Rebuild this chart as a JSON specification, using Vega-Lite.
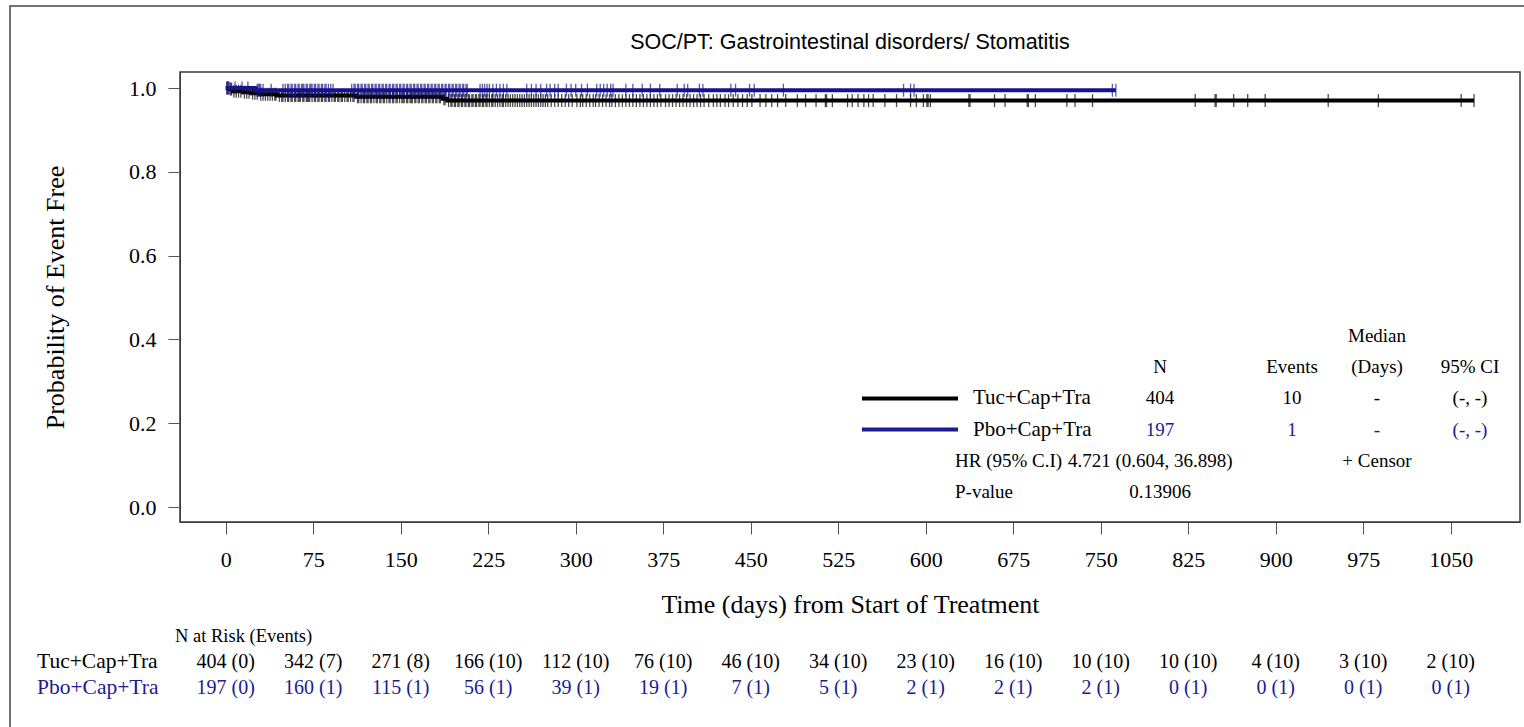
{
  "$schema": "https://vega.github.io/schema/vega-lite/v6.json",
  "width": 1340,
  "height": 450,
  "autosize": "none",
  "padding": {"left": 180, "top": 72, "right": 4, "bottom": 205},
  "background": "white",
  "config": {
    "view": {"stroke": "#3a3a3a", "strokeWidth": 1.5},
    "text": {"font": "Liberation Serif"}
  },
  "title": {
    "text": "SOC/PT: Gastrointestinal disorders/ Stomatitis",
    "font": "Liberation Sans",
    "fontSize": 21.5,
    "fontWeight": "normal",
    "color": "black",
    "anchor": "middle",
    "frame": "group",
    "offset": -48
  },
  "datasets": {
    "frame": [{"a": "l", "b": "r", "c": "t", "d": "b"}],
    "curve": [
      {"g": "T", "t": 0, "s": 1},
      {"g": "T", "t": 3, "s": 0.99752},
      {"g": "T", "t": 6, "s": 0.99254},
      {"g": "T", "t": 15, "s": 0.99003},
      {"g": "T", "t": 22, "s": 0.98749},
      {"g": "T", "t": 29, "s": 0.98493},
      {"g": "T", "t": 44, "s": 0.98227},
      {"g": "T", "t": 112, "s": 0.97905},
      {"g": "T", "t": 186, "s": 0.9745},
      {"g": "T", "t": 190, "s": 0.9699},
      {"g": "T", "t": 1070, "s": 0.9699},
      {"g": "P", "t": 0, "s": 1},
      {"g": "P", "t": 25, "s": 0.99479},
      {"g": "P", "t": 763, "s": 0.99479}
    ],
    "cens": [
      {"g": "T", "s": 1, "ts": [1, 2]},
      {"g": "T", "s": 0.99752, "ts": [4, 5]},
      {"g": "T", "s": 0.99254, "ts": [7, 9, 11, 13]},
      {"g": "T", "s": 0.99003, "ts": [16, 18, 20]},
      {"g": "T", "s": 0.98749, "ts": [23, 25, 27]},
      {"g": "T", "s": 0.98493, "ts": [30, 32, 34, 36, 38, 40, 42, 43]},
      {"g": "T", "s": 0.98227, "ts": [46, 48, 49, 51, 53, 54, 56, 57, 59, 60, 62, 63, 64, 66, 67, 69, 70, 71, 72, 74, 76, 77, 79, 80, 82, 83, 85, 86, 88, 89, 91, 93, 94, 96, 97, 99, 100, 102, 104, 105, 107, 109, 110]},
      {"g": "T", "s": 0.97905, "ts": [113, 114, 116, 118, 119, 121, 122, 124, 125, 127, 129, 130, 132, 133, 135, 136, 138, 140, 141, 143, 144, 146, 147, 149, 151, 152, 153, 155, 156, 158, 159, 160, 162, 163, 165, 166, 168, 169, 171, 172, 174, 175, 177, 178, 180, 181, 183, 184]},
      {"g": "T", "s": 0.9745, "ts": [187, 188]},
      {"g": "T", "s": 0.9699, "ts": [191, 193, 194, 196, 197, 199, 200, 202, 203, 205, 206, 208, 209, 211, 212, 214, 215, 217, 218, 220, 221, 223, 224, 226, 228, 229, 231, 233, 235, 237, 238, 240, 242, 244, 246, 248, 250, 252, 254, 256, 258, 260, 262, 264, 266, 268, 270, 272, 274, 276, 279, 282, 285, 288, 291, 294, 297, 301, 304, 306, 309, 312, 315, 317, 320, 323, 326, 329, 331, 334, 337, 340, 343, 346, 349, 352, 355, 358, 361, 364, 367, 370, 373, 377, 380, 383, 386, 389, 392, 395, 398, 401, 404, 407, 410, 414, 418, 421, 424, 428, 431, 435, 439, 443, 447, 451, 458, 463, 468, 473, 480, 490, 497, 506, 514, 515, 520, 533, 537, 542, 547, 551, 555, 565, 575, 587, 592, 598, 601, 602, 604, 637, 638, 659, 668, 687, 688, 694, 721, 728, 743, 831, 848, 849, 864, 876, 891, 945, 988, 1059, 1070]},
      {"g": "P", "s": 1, "ts": [1, 2, 3, 8, 14, 19]},
      {"g": "P", "s": 0.99479, "ts": [27, 28, 29, 30, 32, 39, 49, 51, 53, 54, 56, 57, 59, 60, 62, 63, 65, 66, 67, 69, 70, 72, 73, 74, 76, 77, 79, 80, 82, 83, 85, 86, 88, 90, 92, 108, 110, 111, 113, 114, 116, 117, 119, 120, 122, 123, 125, 126, 128, 129, 131, 132, 134, 135, 137, 138, 140, 141, 143, 144, 146, 147, 149, 150, 152, 153, 155, 156, 158, 159, 161, 162, 164, 165, 167, 168, 170, 171, 173, 174, 176, 177, 179, 180, 182, 183, 185, 186, 188, 189, 191, 192, 194, 195, 197, 198, 200, 201, 203, 204, 206, 207, 218, 220, 222, 224, 226, 229, 232, 235, 238, 241, 258, 262, 266, 270, 275, 278, 282, 285, 292, 296, 300, 305, 310, 318, 321, 324, 327, 330, 332, 343, 349, 357, 364, 372, 387, 393, 396, 406, 409, 433, 437, 449, 453, 478, 581, 587, 590, 760, 763]}
    ],
    "risk": [
      {"g": "T", "t": 0, "txt": "404 (0)"},
      {"g": "T", "t": 75, "txt": "342 (7)"},
      {"g": "T", "t": 150, "txt": "271 (8)"},
      {"g": "T", "t": 225, "txt": "166 (10)"},
      {"g": "T", "t": 300, "txt": "112 (10)"},
      {"g": "T", "t": 375, "txt": "76 (10)"},
      {"g": "T", "t": 450, "txt": "46 (10)"},
      {"g": "T", "t": 525, "txt": "34 (10)"},
      {"g": "T", "t": 600, "txt": "23 (10)"},
      {"g": "T", "t": 675, "txt": "16 (10)"},
      {"g": "T", "t": 750, "txt": "10 (10)"},
      {"g": "T", "t": 825, "txt": "10 (10)"},
      {"g": "T", "t": 900, "txt": "4 (10)"},
      {"g": "T", "t": 975, "txt": "3 (10)"},
      {"g": "T", "t": 1050, "txt": "2 (10)"},
      {"g": "P", "t": 0, "txt": "197 (0)"},
      {"g": "P", "t": 75, "txt": "160 (1)"},
      {"g": "P", "t": 150, "txt": "115 (1)"},
      {"g": "P", "t": 225, "txt": "56 (1)"},
      {"g": "P", "t": 300, "txt": "39 (1)"},
      {"g": "P", "t": 375, "txt": "19 (1)"},
      {"g": "P", "t": 450, "txt": "7 (1)"},
      {"g": "P", "t": 525, "txt": "5 (1)"},
      {"g": "P", "t": 600, "txt": "2 (1)"},
      {"g": "P", "t": 675, "txt": "2 (1)"},
      {"g": "P", "t": 750, "txt": "2 (1)"},
      {"g": "P", "t": 825, "txt": "0 (1)"},
      {"g": "P", "t": 900, "txt": "0 (1)"},
      {"g": "P", "t": 975, "txt": "0 (1)"},
      {"g": "P", "t": 1050, "txt": "0 (1)"}
    ],
    "riskHdr": [
      {"r": "H", "c": "hdr", "txt": "N at Risk (Events)", "g": "T"}
    ],
    "riskLab": [
      {"r": "T", "c": "lab", "txt": "Tuc+Cap+Tra", "g": "T"},
      {"r": "P", "c": "lab", "txt": "Pbo+Cap+Tra", "g": "P"}
    ],
    "legLines": [
      {"r": "T", "p": "a", "g": "T"},
      {"r": "T", "p": "b", "g": "T"},
      {"r": "P", "p": "a", "g": "P"},
      {"r": "P", "p": "b", "g": "P"}
    ],
    "legNE": [
      {"r": "hdr", "c": "N", "txt": "N", "g": "T"},
      {"r": "hdr", "c": "E", "txt": "Events", "g": "T"},
      {"r": "T", "c": "N", "txt": "404", "g": "T"},
      {"r": "T", "c": "E", "txt": "10", "g": "T"},
      {"r": "P", "c": "N", "txt": "197", "g": "P"},
      {"r": "P", "c": "E", "txt": "1", "g": "P"},
      {"r": "PV", "c": "N", "txt": "0.13906", "g": "T"}
    ],
    "legMC": [
      {"r": "med", "c": "M", "txt": "Median", "g": "T"},
      {"r": "hdr", "c": "M", "txt": "(Days)", "g": "T"},
      {"r": "hdr", "c": "C", "txt": "95% CI", "g": "T"},
      {"r": "T", "c": "M", "txt": "-", "g": "T"},
      {"r": "T", "c": "C", "txt": "(-, -)", "g": "T"},
      {"r": "P", "c": "M", "txt": "-", "g": "P"},
      {"r": "P", "c": "C", "txt": "(-, -)", "g": "P"},
      {"r": "HR", "c": "M", "txt": "+ Censor", "g": "T"}
    ],
    "legLab": [
      {"r": "T", "c": "lab", "txt": "Tuc+Cap+Tra", "g": "T"},
      {"r": "P", "c": "lab", "txt": "Pbo+Cap+Tra", "g": "T"}
    ],
    "legLeft": [
      {"r": "HR", "c": "hr", "txt": "HR (95% C.I)", "g": "T"},
      {"r": "HR", "c": "hrv", "txt": "4.721 (0.604, 36.898)", "g": "T"},
      {"r": "PV", "c": "hr", "txt": "P-value", "g": "T"}
    ]
  },
  "resolve": {"scale": {"x": "independent", "y": "independent"}},
  "layer": [
    {
      "data": {"name": "frame"},
      "mark": {"type": "rect", "fill": null, "stroke": "#444", "strokeWidth": 1.5},
      "encoding": {
        "x": {"field": "a", "type": "nominal", "scale": {"type": "point", "domain": ["l", "r"], "range": [-170, 1400], "padding": 0}, "axis": null},
        "x2": {"field": "b"},
        "y": {"field": "c", "type": "nominal", "scale": {"type": "point", "domain": ["t", "b"], "range": [-66, 700], "padding": 0}, "axis": null},
        "y2": {"field": "d"}
      }
    },
    {
      "data": {"name": "curve"},
      "transform": [{"filter": "datum.g === 'T'"}],
      "mark": {"type": "line", "interpolate": "step-after", "color": "black", "strokeWidth": 4},
      "encoding": {
        "x": {
          "field": "t", "type": "quantitative",
          "scale": {"domain": [-39.2, 1109.4], "nice": false, "zero": false},
          "axis": {
            "values": [0, 75, 150, 225, 300, 375, 450, 525, 600, 675, 750, 825, 900, 975, 1050],
            "format": "d",
            "grid": false, "tickSize": 12, "tickColor": "#555", "domainColor": "#3a3a3a",
            "labelFont": "Liberation Serif", "labelFontSize": 22, "labelColor": "black", "labelPadding": 15,
            "title": "Time (days) from Start of Treatment",
            "titleFont": "Liberation Serif", "titleFontSize": 26, "titleFontWeight": "normal", "titleColor": "black", "titlePadding": 21
          }
        },
        "y": {
          "field": "s", "type": "quantitative",
          "scale": {"domain": [-0.0358, 1.0382], "nice": false, "zero": false},
          "axis": {
            "values": [0, 0.2, 0.4, 0.6, 0.8, 1.0], "format": ".1f",
            "grid": false, "tickSize": 12, "tickColor": "#555", "domainColor": "#3a3a3a",
            "labelFont": "Liberation Serif", "labelFontSize": 22, "labelColor": "black", "labelPadding": 12,
            "title": "Probability of Event Free",
            "titleFont": "Liberation Serif", "titleFontSize": 26, "titleFontWeight": "normal", "titleColor": "black", "titlePadding": 60
          }
        }
      }
    },
    {
      "data": {"name": "cens"},
      "transform": [{"filter": "datum.g === 'T'"}, {"flatten": ["ts"], "as": ["t"]}],
      "mark": {"type": "tick", "orient": "vertical", "color": "black", "size": 13, "thickness": 1.3},
      "encoding": {
        "x": {"field": "t", "type": "quantitative", "scale": {"domain": [-39.2, 1109.4], "nice": false, "zero": false}, "axis": null},
        "y": {"field": "s", "type": "quantitative", "scale": {"domain": [-0.0358, 1.0382], "nice": false, "zero": false}, "axis": null}
      }
    },
    {
      "data": {"name": "curve"},
      "transform": [{"filter": "datum.g === 'P'"}],
      "mark": {"type": "line", "interpolate": "step-after", "color": "#14148C", "strokeWidth": 4},
      "encoding": {
        "x": {"field": "t", "type": "quantitative", "scale": {"domain": [-39.2, 1109.4], "nice": false, "zero": false}, "axis": null},
        "y": {"field": "s", "type": "quantitative", "scale": {"domain": [-0.0358, 1.0382], "nice": false, "zero": false}, "axis": null}
      }
    },
    {
      "data": {"name": "cens"},
      "transform": [{"filter": "datum.g === 'P'"}, {"flatten": ["ts"], "as": ["t"]}],
      "mark": {"type": "tick", "orient": "vertical", "color": "#14148C", "size": 13, "thickness": 1.3},
      "encoding": {
        "x": {"field": "t", "type": "quantitative", "scale": {"domain": [-39.2, 1109.4], "nice": false, "zero": false}, "axis": null},
        "y": {"field": "s", "type": "quantitative", "scale": {"domain": [-0.0358, 1.0382], "nice": false, "zero": false}, "axis": null}
      }
    },
    {
      "data": {"name": "risk"},
      "mark": {"type": "text", "fontSize": 20, "baseline": "middle", "align": "center", "font": "Liberation Serif"},
      "encoding": {
        "x": {"field": "t", "type": "quantitative", "scale": {"domain": [-39.2, 1109.4], "nice": false, "zero": false}, "axis": null},
        "y": {"field": "g", "type": "nominal", "scale": {"type": "point", "domain": ["H", "T", "P"], "range": [564, 616], "padding": 0}, "axis": null},
        "text": {"field": "txt"},
        "color": {"field": "g", "type": "nominal", "scale": {"domain": ["T", "P"], "range": ["black", "#1B1B96"]}, "legend": null}
      }
    },
    {
      "data": {"name": "riskHdr"},
      "mark": {"type": "text", "fontSize": 18.5, "baseline": "middle", "align": "left", "font": "Liberation Serif"},
      "encoding": {
        "x": {"field": "c", "type": "nominal", "scale": {"type": "point", "domain": ["lab", "hdr"], "range": [-143, -5], "padding": 0}, "axis": null},
        "y": {"field": "r", "type": "nominal", "scale": {"type": "point", "domain": ["H", "T", "P"], "range": [564, 616], "padding": 0}, "axis": null},
        "text": {"field": "txt"},
        "color": {"field": "g", "type": "nominal", "scale": {"domain": ["T", "P"], "range": ["black", "#1B1B96"]}, "legend": null}
      }
    },
    {
      "data": {"name": "riskLab"},
      "mark": {"type": "text", "fontSize": 21.5, "baseline": "middle", "align": "left", "font": "Liberation Serif"},
      "encoding": {
        "x": {"field": "c", "type": "nominal", "scale": {"type": "point", "domain": ["lab", "hdr"], "range": [-143, -5], "padding": 0}, "axis": null},
        "y": {"field": "r", "type": "nominal", "scale": {"type": "point", "domain": ["H", "T", "P"], "range": [564, 616], "padding": 0}, "axis": null},
        "text": {"field": "txt"},
        "color": {"field": "g", "type": "nominal", "scale": {"domain": ["T", "P"], "range": ["black", "#1B1B96"]}, "legend": null}
      }
    },
    {
      "data": {"name": "legLines"},
      "mark": {"type": "line", "strokeWidth": 4},
      "encoding": {
        "x": {"field": "p", "type": "nominal", "scale": {"type": "point", "domain": ["a", "b"], "range": [682, 778], "padding": 0}, "axis": null},
        "y": {"field": "r", "type": "nominal", "scale": {"type": "point", "domain": ["med", "hdr", "T", "P", "HR", "PV"], "range": [264, 420], "padding": 0}, "axis": null},
        "color": {"field": "g", "type": "nominal", "scale": {"domain": ["T", "P"], "range": ["black", "#14148C"]}, "legend": null},
        "detail": {"field": "r"}
      }
    },
    {
      "data": {"name": "legNE"},
      "mark": {"type": "text", "fontSize": 19, "baseline": "middle", "align": "center", "font": "Liberation Serif"},
      "encoding": {
        "x": {"field": "c", "type": "nominal", "scale": {"type": "point", "domain": ["N", "E"], "range": [980, 1112], "padding": 0}, "axis": null},
        "y": {"field": "r", "type": "nominal", "scale": {"type": "point", "domain": ["med", "hdr", "T", "P", "HR", "PV"], "range": [264, 420], "padding": 0}, "axis": null},
        "text": {"field": "txt"},
        "color": {"field": "g", "type": "nominal", "scale": {"domain": ["T", "P"], "range": ["black", "#1B1B96"]}, "legend": null}
      }
    },
    {
      "data": {"name": "legMC"},
      "mark": {"type": "text", "fontSize": 19, "baseline": "middle", "align": "center", "font": "Liberation Serif"},
      "encoding": {
        "x": {"field": "c", "type": "nominal", "scale": {"type": "point", "domain": ["M", "C"], "range": [1197, 1290], "padding": 0}, "axis": null},
        "y": {"field": "r", "type": "nominal", "scale": {"type": "point", "domain": ["med", "hdr", "T", "P", "HR", "PV"], "range": [264, 420], "padding": 0}, "axis": null},
        "text": {"field": "txt"},
        "color": {"field": "g", "type": "nominal", "scale": {"domain": ["T", "P"], "range": ["black", "#1B1B96"]}, "legend": null}
      }
    },
    {
      "data": {"name": "legLab"},
      "mark": {"type": "text", "fontSize": 21, "baseline": "middle", "align": "left", "font": "Liberation Serif"},
      "encoding": {
        "x": {"field": "c", "type": "nominal", "scale": {"type": "point", "domain": ["lab", "z"], "range": [793, 900], "padding": 0}, "axis": null},
        "y": {"field": "r", "type": "nominal", "scale": {"type": "point", "domain": ["med", "hdr", "T", "P", "HR", "PV"], "range": [264, 420], "padding": 0}, "axis": null},
        "text": {"field": "txt"},
        "color": {"field": "g", "type": "nominal", "scale": {"domain": ["T", "P"], "range": ["black", "#1B1B96"]}, "legend": null}
      }
    },
    {
      "data": {"name": "legLeft"},
      "mark": {"type": "text", "fontSize": 19, "baseline": "middle", "align": "left", "font": "Liberation Serif"},
      "encoding": {
        "x": {"field": "c", "type": "nominal", "scale": {"type": "point", "domain": ["hr", "hrv"], "range": [775, 888], "padding": 0}, "axis": null},
        "y": {"field": "r", "type": "nominal", "scale": {"type": "point", "domain": ["med", "hdr", "T", "P", "HR", "PV"], "range": [264, 420], "padding": 0}, "axis": null},
        "text": {"field": "txt"},
        "color": {"field": "g", "type": "nominal", "scale": {"domain": ["T", "P"], "range": ["black", "#1B1B96"]}, "legend": null}
      }
    }
  ]
}
